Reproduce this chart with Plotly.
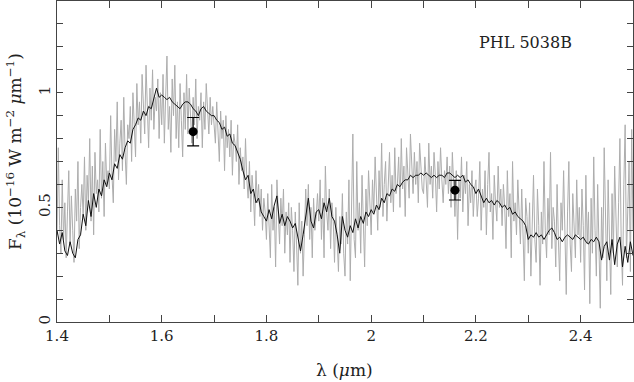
import numpy as np
import plotly.graph_objects as go

# smoothed spectrum (black): wavelength grid start / step (micron)
black_start = 1.40
black_step = 0.005
flux_black = [
    0.40, 0.34, 0.39, 0.31, 0.29, 0.35, 0.30, 0.28, 0.36, 0.38,
    0.47, 0.42, 0.53, 0.46, 0.56, 0.50, 0.58, 0.55, 0.62, 0.59,
    0.65, 0.62, 0.69, 0.67, 0.73, 0.71, 0.76, 0.79, 0.78, 0.84,
    0.86, 0.89, 0.88, 0.92, 0.90, 0.94, 0.93, 0.97, 1.02, 0.98,
    0.99, 0.98, 0.97, 0.98, 0.96, 0.95, 0.94, 0.93, 0.95, 0.96,
    0.96, 0.95, 0.93, 0.92, 0.90, 0.93, 0.94, 0.92, 0.91, 0.90,
    0.90, 0.88, 0.87, 0.84, 0.85, 0.81, 0.82, 0.78, 0.77, 0.74,
    0.71, 0.66, 0.62, 0.64, 0.56, 0.58, 0.52, 0.54, 0.48, 0.46,
    0.44, 0.49, 0.45, 0.51, 0.55, 0.43, 0.47, 0.42, 0.46, 0.44,
    0.41, 0.43, 0.36, 0.31, 0.38, 0.47, 0.54, 0.44, 0.41, 0.48,
    0.49, 0.45, 0.52, 0.48, 0.54, 0.46, 0.44, 0.38, 0.30, 0.46,
    0.40, 0.37, 0.42, 0.39, 0.45, 0.41, 0.46, 0.43, 0.48, 0.46,
    0.49, 0.47, 0.51, 0.49, 0.54, 0.52, 0.56, 0.55, 0.58, 0.57,
    0.60, 0.59, 0.61, 0.62, 0.62, 0.64, 0.63, 0.64, 0.64, 0.65,
    0.64, 0.65, 0.64, 0.63, 0.64, 0.63, 0.64, 0.64, 0.63, 0.65,
    0.65, 0.64, 0.63, 0.64, 0.63, 0.64, 0.61, 0.62, 0.60, 0.59,
    0.56, 0.58, 0.55, 0.52, 0.54, 0.52, 0.53, 0.51, 0.53, 0.52,
    0.50, 0.51, 0.49, 0.50, 0.47, 0.48, 0.46, 0.45, 0.44, 0.42,
    0.36, 0.38, 0.37, 0.39, 0.37, 0.38, 0.36, 0.38, 0.40, 0.41,
    0.39, 0.36, 0.37, 0.35, 0.37, 0.38, 0.37, 0.36, 0.38, 0.37,
    0.36, 0.37, 0.35, 0.34, 0.36, 0.35, 0.37, 0.35, 0.27, 0.33,
    0.35, 0.27, 0.36, 0.25, 0.34, 0.37, 0.24, 0.33, 0.26, 0.35,
    0.29,
]

# observed noisy spectrum (grey)
grey_start = 1.40
grey_step = 0.0025
flux_grey = [
    0.38, 0.76, 0.42, 0.30, 0.62, 0.36, 0.52, 0.28, 0.48, 0.66, 0.34, 0.55, 0.40, 0.26, 0.58, 0.44, 0.70, 0.32, 0.50, 0.60,
    0.46, 0.72, 0.40, 0.64, 0.52, 0.80, 0.44, 0.68, 0.38, 0.74, 0.56, 0.62, 0.48, 0.84, 0.54, 0.70, 0.46, 0.78, 0.60, 0.66,
    0.58, 0.90, 0.64, 0.52, 0.84, 0.70, 0.96, 0.62, 0.78, 0.88, 0.66, 0.98, 0.74, 0.60, 0.86, 0.80, 0.94, 0.70, 1.00, 0.82,
    0.72, 1.04, 0.86, 0.96, 0.78, 1.08, 0.90, 0.82, 1.12, 0.94, 0.76, 1.02, 0.88, 1.10, 0.84, 0.98, 0.92, 1.06, 0.80, 1.00,
    0.86, 1.08, 0.78, 0.98, 1.16, 0.84, 0.94, 0.74, 1.06, 0.90, 1.12, 0.80, 0.96, 0.76, 1.04, 0.88, 0.72, 1.00, 0.84, 1.08,
    0.82, 1.02, 0.90, 0.78, 0.98, 0.86, 1.06, 0.80, 0.94, 0.88, 1.00, 0.76, 0.96, 0.84, 1.04, 0.90, 0.82, 0.98, 0.86, 0.94,
    0.86, 0.78, 0.96, 0.82, 0.70, 0.92, 0.80, 0.88, 0.66, 0.90, 0.76, 0.84, 0.72, 0.88, 0.64, 0.82, 0.78, 0.70, 0.86, 0.60,
    0.76, 0.66, 0.72, 0.58, 0.80, 0.62, 0.54, 0.70, 0.48, 0.64, 0.56, 0.42, 0.66, 0.52, 0.60, 0.46, 0.58, 0.40, 0.54, 0.48,
    0.36, 0.56, 0.44, 0.28, 0.60, 0.40, 0.50, 0.24, 0.62, 0.46, 0.34, 0.54, 0.42, 0.58, 0.30, 0.48, 0.38, 0.52, 0.26, 0.50,
    0.40, 0.22, 0.48, 0.34, 0.16, 0.52, 0.30, 0.44, 0.20, 0.38, 0.58, 0.42, 0.60, 0.36, 0.50, 0.28, 0.54, 0.40, 0.46, 0.56,
    0.44, 0.62, 0.36, 0.54, 0.28, 0.68, 0.48, 0.40, 0.58, 0.32, 0.52, 0.44, 0.26, 0.50, 0.38, 0.22, 0.46, 0.34, 0.56, 0.30,
    0.20, 0.48, 0.34, 0.62, 0.18, 0.44, 0.82, 0.36, 0.28, 0.70, 0.40, 0.52, 0.30, 0.64, 0.46, 0.24, 0.58, 0.42, 0.66, 0.50,
    0.38, 0.62, 0.48, 0.72, 0.54, 0.40, 0.66, 0.50, 0.78, 0.46, 0.60, 0.70, 0.44, 0.58, 0.74, 0.52, 0.64, 0.48, 0.76, 0.56,
    0.60, 0.72, 0.50, 0.80, 0.58, 0.68, 0.46, 0.76, 0.62, 0.54, 0.82, 0.66, 0.56, 0.74, 0.60, 0.70, 0.52, 0.78, 0.64, 0.58,
    0.56, 0.72, 0.62, 0.50, 0.78, 0.60, 0.68, 0.54, 0.74, 0.64, 0.48, 0.70, 0.58, 0.76, 0.62, 0.52, 0.66, 0.60, 0.72, 0.56,
    0.68, 0.50, 0.74, 0.58, 0.46, 0.66, 0.36, 0.62, 0.54, 0.72, 0.48, 0.64, 0.56, 0.70, 0.42, 0.60, 0.52, 0.66, 0.46, 0.58,
    0.62, 0.46, 0.54, 0.70, 0.40, 0.58, 0.50, 0.66, 0.38, 0.60, 0.74, 0.48, 0.56, 0.36, 0.64, 0.52, 0.44, 0.68, 0.50, 0.58,
    0.42, 0.60, 0.50, 0.32, 0.66, 0.46, 0.56, 0.28, 0.70, 0.44, 0.52, 0.38, 0.62, 0.48, 0.34, 0.58, 0.40, 0.18, 0.54, 0.46,
    0.30, 0.52, 0.20, 0.44, 0.64, 0.36, 0.26, 0.58, 0.42, 0.16, 0.48, 0.34, 0.70, 0.40, 0.28, 0.54, 0.38, 0.74, 0.32, 0.50,
    0.44, 0.24, 0.60, 0.36, 0.18, 0.52, 0.40, 0.66, 0.30, 0.12, 0.48, 0.70, 0.34, 0.22, 0.56, 0.42, 0.28, 0.62, 0.38, 0.50,
    0.26, 0.58, 0.42, 0.14, 0.64, 0.34, 0.48, 0.08, 0.54, 0.30, 0.72, 0.40, 0.20, 0.60, 0.36, 0.06, 0.50, 0.28, 0.76, 0.44,
    0.18, 0.62, 0.38, 0.12, 0.56, 0.30, 0.68, 0.42, 0.24, 0.52, 0.80, 0.34, 0.16, 0.60, 0.86, 0.28, 0.46, 0.70, 0.22, 0.84,
    0.40,
]

# photometric points
phot_wave = [1.66, 2.16]
phot_flux = [0.83, 0.575]
phot_err = [0.062, 0.043]

label_text = "PHL 5038B"
x_title = "λ (<i>μ</i>m)"
y_title = "F<sub>λ</sub> (10<sup>−16</sup> W m<sup>−2</sup> <i>μ</i>m<sup>−1</sup>)"
x_ticks = [1.4, 1.6, 1.8, 2.0, 2.2, 2.4]
x_ticklabels = ["1.4", "1.6", "1.8", "2", "2.2", "2.4"]
y_ticks = [0, 0.5, 1]
y_ticklabels = ["0", "0.5", "1"]

wave_g = grey_start + grey_step * np.arange(len(flux_grey))
wave_b = black_start + black_step * np.arange(len(flux_black))

SERIF = "DejaVu Serif, Liberation Serif, serif"
TXT = "#222222"
AX = "#444444"
W, H = 634, 382
ML, MR, MT, MB = 57, 1, 1, 60

fig = go.Figure()
fig.add_trace(go.Scatter(x=wave_g, y=flux_grey, mode="lines",
                         line=dict(color="#adadad", width=1), showlegend=False))
fig.add_trace(go.Scatter(x=wave_b, y=flux_black, mode="lines",
                         line=dict(color="#111111", width=1), showlegend=False))
fig.add_trace(go.Scatter(x=phot_wave, y=phot_flux, mode="markers",
                         marker=dict(color="black", size=9),
                         error_y=dict(type="data", array=phot_err, color="black",
                                      thickness=1.2, width=6),
                         showlegend=False))

axis_common = dict(showline=True, linecolor=AX, linewidth=1, mirror="ticks",
                   ticks="inside", tickcolor=AX, showgrid=False, zeroline=False,
                   automargin=False,
                   tickfont=dict(family=SERIF, size=15, color=TXT))

fig.update_xaxes(range=[1.4, 2.5], tickvals=x_ticks, ticktext=x_ticklabels, ticklen=7,
                 minor=dict(dtick=0.1, tick0=1.4, ticks="inside", ticklen=7, tickcolor=AX),
                 **axis_common)
fig.update_yaxes(range=[0, 1.4], tickvals=y_ticks, ticktext=y_ticklabels, ticklen=6,
                 tickangle=-90,
                 minor=dict(dtick=0.1, tick0=0, ticks="inside", ticklen=6, tickcolor=AX),
                 **axis_common)

# axis titles as paper-anchored annotations (pixel positions converted to paper fractions)
pw, ph = W - ML - MR, H - MT - MB
fig.add_annotation(xref="paper", yref="paper", x=(344 - ML) / pw, y=(H - MB - 370) / ph,
                   text=x_title, showarrow=False, xanchor="center", yanchor="middle",
                   font=dict(family=SERIF, size=17, color=TXT))
fig.add_annotation(xref="paper", yref="paper", x=(15 - ML) / pw, y=(H - MB - 152) / ph,
                   text=y_title, showarrow=False, xanchor="center", yanchor="middle",
                   textangle=-90, font=dict(family=SERIF, size=17, color=TXT))

fig.add_annotation(x=2.294, y=1.219, xref="x", yref="y", text=label_text, showarrow=False,
                   font=dict(family=SERIF, size=16, color=TXT), xanchor="center", yanchor="middle")

fig.update_layout(width=W, height=H, margin=dict(l=ML, r=MR, t=MT, b=MB),
                  plot_bgcolor="white", paper_bgcolor="white", showlegend=False)

fig.write_html("out.html", config={"displayModeBar": False},
               post_script="document.body.style.margin='0';document.body.style.padding='0';")
